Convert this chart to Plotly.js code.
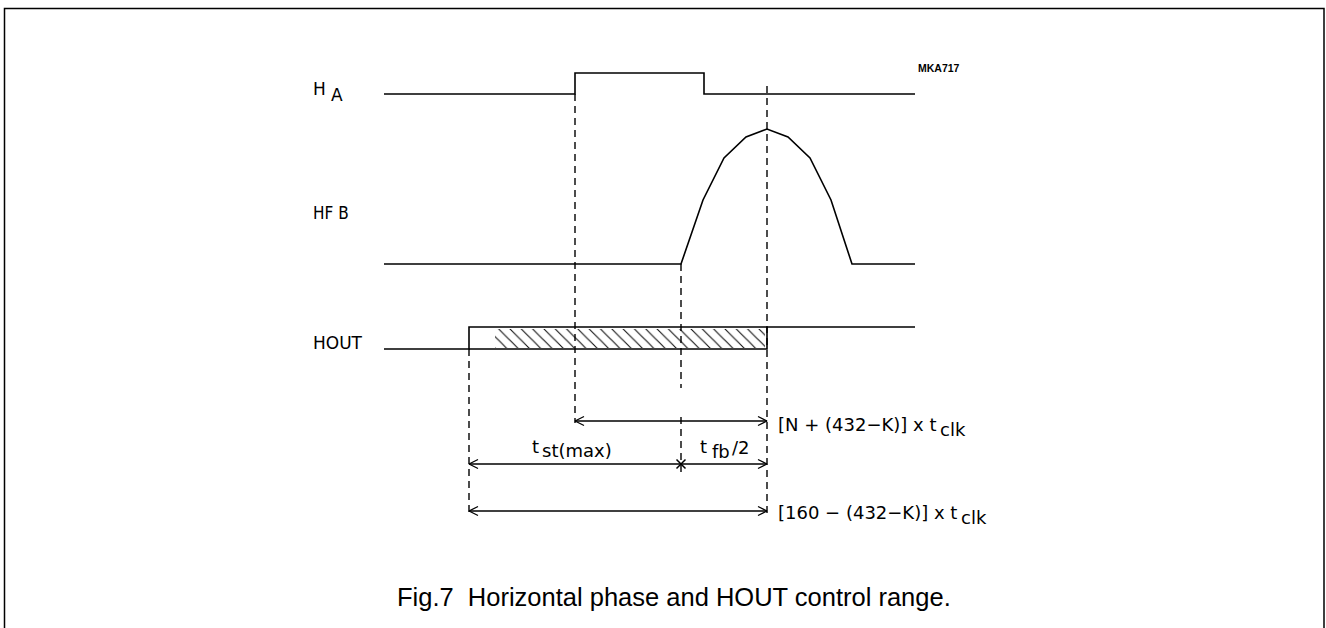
<!DOCTYPE html>
<html>
<head>
<meta charset="utf-8">
<script src="https://cdn.plot.ly/plotly-3.0.1.min.js"></script>
<style>html,body{margin:0;padding:0;background:#fff;}#chart{width:1326px;height:628px;}</style>
</head>
<body>
<div id="chart"></div>
<script>
// Signal waveforms (x: time position, y: level position in drawing units)
const haX = [384, 575, 575, 704, 704, 915];
const haY = [94, 94, 73, 73, 94, 94];
const hfbX = [384, 681, 703, 724, 746, 767, 788, 810, 831, 852, 915];
const hfbY = [264, 264, 200, 158, 137, 129, 137, 158, 200, 264, 264];
const houtX = [384, 469, 469, 915];
const houtY = [349, 349, 327, 327];
const houtRangeX = [469, 767, 767];
const houtRangeY = [349, 349, 327];
const hatchX = [495, 765, 765, 495, 495];
const hatchY = [329, 329, 348, 348, 329];
// timing markers
const markX = [575, 681, 681, 767, 469];
const markTop = [94, 264, 417, 86, 349];
const markBot = [423, 388, 474, 515, 515];
// dimension arrows
const dimStart = [575, 469, 681, 469];
const dimEnd = [767, 681, 767, 767];
const dimY = [421, 464, 464, 511];
const headAtStart = [true, true, false, true];
const headAtEnd = [true, false, true, true];
const crossX = [681];
const crossY = [464];

const lineStyle = {color: '#000', width: 1.6};
const traces = [];
traces.push({x: hatchX, y: hatchY, mode: 'lines', fill: 'toself', line: {width: 0, color: 'rgba(0,0,0,0)'},
  fillcolor: 'rgba(255,255,255,0)',
  fillpattern: {shape: '\\', size: 8, solidity: 0.14, fgcolor: '#111', bgcolor: 'rgba(255,255,255,0)'}, hoverinfo: 'skip'});
traces.push({x: haX, y: haY, mode: 'lines', line: lineStyle});
traces.push({x: hfbX, y: hfbY, mode: 'lines', line: lineStyle});
traces.push({x: houtX, y: houtY, mode: 'lines', line: lineStyle});
traces.push({x: houtRangeX, y: houtRangeY, mode: 'lines', line: lineStyle});
for (let i = 0; i < markX.length; i++) {
  traces.push({x: [markX[i], markX[i]], y: [markTop[i], markBot[i]], mode: 'lines',
    line: {color: '#000', width: 1.4, dash: '7px,5px'}});
}
const HL = 9, HW = 4.5; // arrowhead length / half-width
for (let i = 0; i < dimY.length; i++) {
  traces.push({x: [dimStart[i], dimEnd[i]], y: [dimY[i], dimY[i]], mode: 'lines', line: {color: '#000', width: 1.3}});
  if (headAtStart[i]) {
    const s = dimStart[i], y = dimY[i];
    traces.push({x: [s + HL, s, s + HL], y: [y - HW, y, y + HW], mode: 'lines', line: {color: '#000', width: 1.3}});
  }
  if (headAtEnd[i]) {
    const e = dimEnd[i], y = dimY[i];
    traces.push({x: [e - HL, e, e - HL], y: [y - HW, y, y + HW], mode: 'lines', line: {color: '#000', width: 1.3}});
  }
}
traces.push({x: crossX, y: crossY, mode: 'markers', marker: {symbol: 'x-thin-open', size: 9, color: '#000', line: {color: '#000', width: 1.5}}});

const ann = [];
const lf = {family: 'DejaVu Sans', size: 18, color: '#000'};
function txt(x, y, t, anchor, f) {
  ann.push({x: x, y: y, xref: 'x', yref: 'y', text: t, showarrow: false, xanchor: anchor || 'left', yanchor: 'middle', font: f || lf});
}
const lf17 = {family: 'DejaVu Sans', size: 17, color: '#000'};
txt(311, 89, 'H', 'left', lf17);
txt(329, 95, 'A', 'left', lf17);
txt(311, 213, 'HF B', 'left', {family: 'Liberation Sans Narrow, DejaVu Sans Condensed, DejaVu Sans', size: 17, color: '#000'});
txt(311, 343, 'HOUT', 'left', lf17);
txt(776, 424, '[N + (432\u2212K)] x t');
txt(938, 429, 'clk');
txt(530, 446, 't');
txt(540, 450, 'st(max)');
txt(698, 446, 't');
txt(710, 451, 'fb');
txt(730, 447, '/2');
txt(776, 512, '[160 \u2212 (432\u2212K)] x t');
txt(959, 517, 'clk');
txt(916, 68, 'MKA717', 'left', {family: 'Liberation Sans', size: 10.5, color: '#000', weight: 'bold'});
txt(674, 597, 'Fig.7&nbsp;&nbsp;Horizontal phase and HOUT control range.', 'center', {family: 'Liberation Sans', size: 25.5, color: '#000'});

const layout = {
  width: 1326, height: 628,
  margin: {l: 0, r: 0, t: 0, b: 0},
  paper_bgcolor: '#fff', plot_bgcolor: '#fff',
  showlegend: false,
  xaxis: {range: [0, 1326], visible: false, fixedrange: true},
  yaxis: {range: [628, 0], visible: false, fixedrange: true},
  annotations: ann,
  shapes: [{type: 'rect', xref: 'x', yref: 'y', x0: 4.5, x1: 1324, y0: 8.5, y1: 640, line: {color: '#000', width: 1.5}}]
};
Plotly.newPlot('chart', traces, layout, {displayModeBar: false, staticPlot: true});
</script>
</body>
</html>
